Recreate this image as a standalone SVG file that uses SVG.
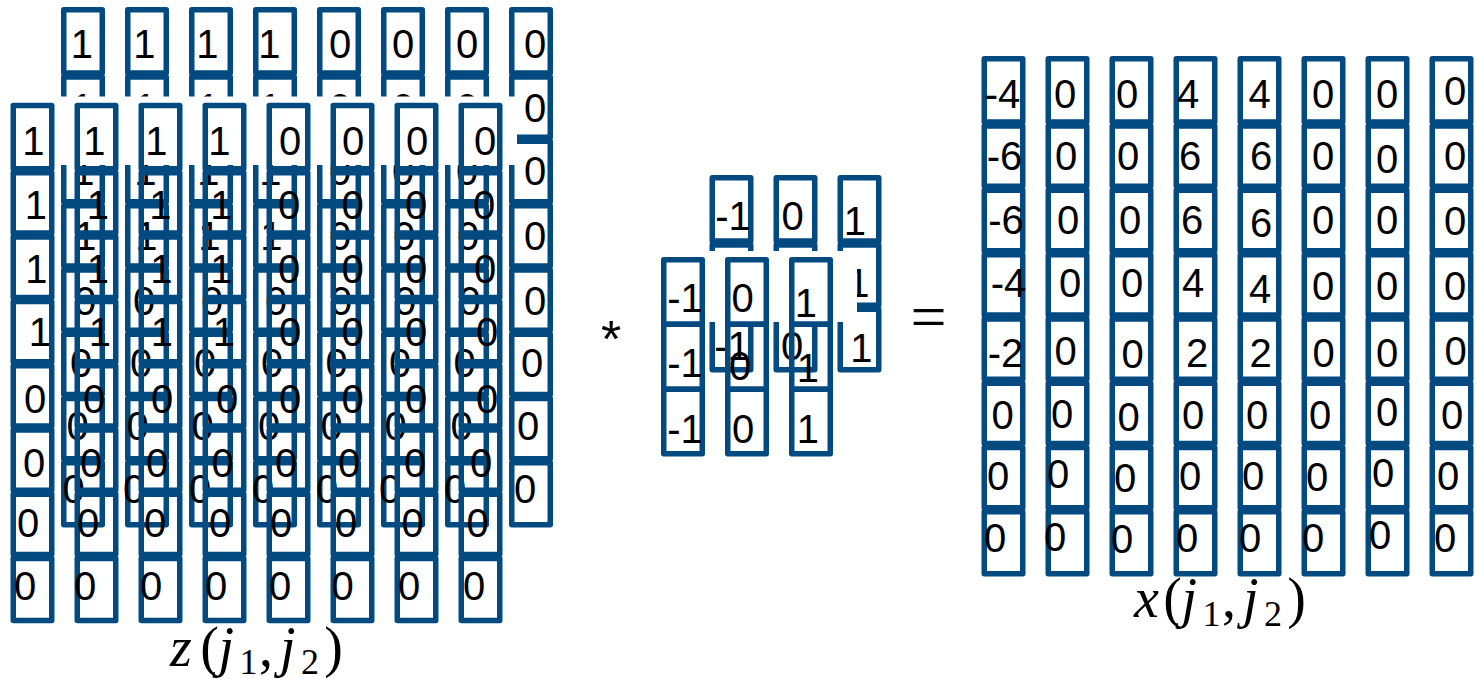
<svg xmlns="http://www.w3.org/2000/svg" width="1479" height="679" viewBox="0 0 1479 679">
  <style>
    .cell { fill: none; stroke: #034a80; stroke-width: 5.5; stroke-linejoin: round; }
    .d { font-family: "Liberation Sans", Arial, sans-serif; font-size: 40px; fill: #000; text-anchor: middle; }
    .op { font-family: "Liberation Sans", Arial, sans-serif; fill: #000; text-anchor: middle; }
    .mi { font-family: "Liberation Serif", "Times New Roman", serif; font-style: italic; font-size: 56px; fill: #000; text-anchor: middle; }
    .mr { font-family: "Liberation Serif", "Times New Roman", serif; font-size: 56px; fill: #000; text-anchor: middle; }
    .sub { font-family: "Liberation Serif", "Times New Roman", serif; font-size: 36px; fill: #000; text-anchor: middle; }
  </style>
  <defs>
    <!-- one column of eight stacked cells -->
    <g id="col8">
      <rect class="cell" x="2.75" y="-0.25" width="38.5" height="63.3"/>
      <rect class="cell" x="2.75" y="67.05" width="38.5" height="60.3"/>
      <rect class="cell" x="2.75" y="131.35" width="38.5" height="60.3"/>
      <rect class="cell" x="2.75" y="195.65" width="38.5" height="60.3"/>
      <rect class="cell" x="2.75" y="259.95" width="38.5" height="60.3"/>
      <rect class="cell" x="2.75" y="324.25" width="38.5" height="60.3"/>
      <rect class="cell" x="2.75" y="388.55" width="38.5" height="60.3"/>
      <rect class="cell" x="2.75" y="452.85" width="38.5" height="61.8"/>
    </g>
    <!-- three-cell column, rear kernel slice -->
    <g id="col3b">
      <rect class="cell" x="2.75" y="-0.25" width="38.5" height="63.3"/>
      <rect class="cell" x="2.75" y="67.05" width="38.5" height="60.3"/>
      <rect class="cell" x="2.75" y="131.35" width="38.5" height="60.3"/>
    </g>
    <!-- three-cell column, front kernel slice -->
    <g id="col3f">
      <rect class="cell" x="2.75" y="2.75" width="38.5" height="64.5"/>
      <rect class="cell" x="2.75" y="67.25" width="38.5" height="65"/>
      <rect class="cell" x="2.75" y="132.25" width="38.5" height="64.5"/>
    </g>
  </defs>

  <!-- z(j1,j2): rear slice -->
  <g id="z-back">
    <use href="#col8" x="61" y="10"/>
    <use href="#col8" x="125" y="10"/>
    <use href="#col8" x="189" y="10"/>
    <use href="#col8" x="253" y="10"/>
    <use href="#col8" x="317" y="10"/>
    <use href="#col8" x="381" y="10"/>
    <use href="#col8" x="445" y="10"/>
    <use href="#col8" x="509" y="10"/>
    <g class="d">
      <text x="81.9" y="58">1</text><text x="144.4" y="58">1</text><text x="207.4" y="58">1</text><text x="269.4" y="58">1</text>
      <text x="340" y="58">0</text><text x="403" y="58">0</text><text x="467" y="58">0</text><text x="535" y="58">0</text>
      <text x="82.4" y="122">1</text><text x="145.4" y="122">1</text><text x="208.4" y="122">1</text><text x="270.4" y="122">1</text>
      <text x="340" y="122">0</text><text x="403" y="122">0</text><text x="467" y="122">0</text><text x="535" y="122">0</text>
      <text x="83.4" y="185">1</text><text x="145.4" y="185">1</text><text x="208.4" y="185">1</text><text x="270.4" y="185">1</text>
      <text x="340" y="185">0</text><text x="403" y="185">0</text><text x="467" y="185">0</text><text x="535" y="185">0</text>
      <text x="85.4" y="250">1</text><text x="146.4" y="250">1</text><text x="209.4" y="250">1</text><text x="271.4" y="250">1</text>
      <text x="340" y="250">0</text><text x="404" y="250">0</text><text x="468" y="250">0</text><text x="535" y="250">0</text>
      <text x="85" y="315">0</text><text x="144" y="315">0</text><text x="212" y="315">0</text><text x="276" y="315">0</text>
      <text x="341" y="315">0</text><text x="405" y="315">0</text><text x="469.5" y="315">0</text><text x="535" y="315">0</text>
      <text x="81" y="377">0</text><text x="141" y="377">0</text><text x="205" y="377">0</text><text x="272" y="377">0</text>
      <text x="336.5" y="377">0</text><text x="400" y="377">0</text><text x="464.5" y="377">0</text><text x="532" y="377">0</text>
      <text x="77.5" y="440">0</text><text x="137.5" y="440">0</text><text x="202.5" y="440">0</text><text x="269" y="440">0</text>
      <text x="331.5" y="440">0</text><text x="395.5" y="440">0</text><text x="461.5" y="440">0</text><text x="528" y="440">0</text>
      <text x="73.5" y="503">0</text><text x="134" y="503">0</text><text x="200" y="503">0</text><text x="263" y="503">0</text>
      <text x="327" y="503">0</text><text x="390" y="503">0</text><text x="455" y="503">0</text><text x="525" y="503">0</text>
    </g>
  </g>

  <!-- backing of the front slice's first row -->
  <rect id="z-mask" x="0" y="96.5" width="517" height="68.5" fill="#fff"/>

  <!-- z(j1,j2): front slice -->
  <g id="z-front">
    <use href="#col8" x="10.5" y="105.75"/>
    <use href="#col8" x="74.5" y="105.75"/>
    <use href="#col8" x="138.5" y="105.75"/>
    <use href="#col8" x="202.5" y="105.75"/>
    <use href="#col8" x="266.5" y="105.75"/>
    <use href="#col8" x="330.5" y="105.75"/>
    <use href="#col8" x="394.5" y="105.75"/>
    <use href="#col8" x="458.5" y="105.75"/>
    <g class="d">
      <text x="33.4" y="155">1</text><text x="94.4" y="155">1</text><text x="156.4" y="155">1</text><text x="219.4" y="155">1</text>
      <text x="290" y="155">0</text><text x="353" y="155">0</text><text x="417" y="155">0</text><text x="485" y="155">0</text>
      <text x="35.9" y="219">1</text><text x="97.9" y="219">1</text><text x="160.4" y="219">1</text><text x="221.4" y="219">1</text>
      <text x="289" y="219">0</text><text x="352.5" y="219">0</text><text x="416" y="219">0</text><text x="484" y="219">0</text>
      <text x="36.4" y="283">1</text><text x="97.9" y="283">1</text><text x="161.4" y="283">1</text><text x="221.4" y="283">1</text>
      <text x="289" y="283">0</text><text x="352.5" y="283">0</text><text x="416" y="283">0</text><text x="485" y="283">0</text>
      <text x="39.9" y="346">1</text><text x="99.9" y="346">1</text><text x="161.9" y="346">1</text><text x="223.9" y="346">1</text>
      <text x="290" y="346">0</text><text x="352.5" y="346">0</text><text x="416" y="346">0</text><text x="487" y="346">0</text>
      <text x="35" y="413">0</text><text x="94" y="413">0</text><text x="162" y="413">0</text><text x="227" y="413">0</text>
      <text x="290" y="413">0</text><text x="352.5" y="413">0</text><text x="416" y="413">0</text><text x="487" y="413">0</text>
      <text x="34" y="477">0</text><text x="91" y="477">0</text><text x="157" y="477">0</text><text x="222.5" y="477">0</text>
      <text x="286" y="477">0</text><text x="349" y="477">0</text><text x="415" y="477">0</text><text x="481" y="477">0</text>
      <text x="28" y="537">0</text><text x="88" y="537">0</text><text x="155" y="537">0</text><text x="220" y="537">0</text>
      <text x="281" y="537">0</text><text x="346" y="537">0</text><text x="412.5" y="537">0</text><text x="477.5" y="537">0</text>
      <text x="25" y="600">0</text><text x="85" y="600">0</text><text x="151" y="600">0</text><text x="216" y="600">0</text>
      <text x="280" y="600">0</text><text x="342.5" y="600">0</text><text x="409" y="600">0</text><text x="474" y="600">0</text>
    </g>
  </g>

  <!-- label under the input -->
  <g id="z-label">
    <text class="mi" x="181" y="666">z</text>
    <text class="mr" x="209.5" y="666">(</text>
    <text class="mi" x="226.3" y="666">j</text>
    <text class="sub" x="248.5" y="674">1</text>
    <text class="mr" x="266" y="666">,</text>
    <text class="mi" x="287.8" y="666">j</text>
    <text class="sub" x="310" y="674">2</text>
    <text class="mr" x="333.5" y="666">)</text>
  </g>

  <!-- convolution sign -->
  <text id="conv-op" class="op" x="611" y="357" font-size="52">*</text>

  <!-- kernel: rear slice -->
  <g id="kernel-back">
    <use href="#col3b" x="709.5" y="178"/>
    <use href="#col3b" x="773.5" y="178"/>
    <use href="#col3b" x="837.5" y="178"/>
    <g class="d">
      <text x="733.1" y="230">-1</text><text x="792.5" y="230">0</text><text x="854.9" y="235">1</text>
      <text x="858.4" y="297">1</text>
      <text x="732.1" y="360">-1</text><text x="792" y="360">0</text><text x="861.4" y="362">1</text>
    </g>
  </g>

  <!-- backing of the front kernel slice's first row -->
  <rect id="kernel-mask" x="655" y="251" width="202" height="71" fill="#fff"/>

  <!-- kernel: front slice -->
  <g id="kernel-front">
    <use href="#col3f" x="661" y="257"/>
    <use href="#col3f" x="725" y="257"/>
    <use href="#col3f" x="789" y="257"/>
    <g class="d">
      <text x="685.1" y="312">-1</text><text x="742.5" y="312">0</text><text x="805.9" y="317">1</text>
      <text x="685.1" y="377">-1</text><text x="740" y="380">0</text><text x="807.9" y="382">1</text>
      <text x="685.1" y="443">-1</text><text x="743" y="443">0</text><text x="807.9" y="443">1</text>
    </g>
  </g>

  <!-- equals sign -->
  <text id="eq-op" x="928.5" y="338" font-family="'Liberation Serif', 'Times New Roman', serif" font-size="64" text-anchor="middle" fill="#000">=</text>

  <!-- output x(j1,j2) -->
  <g id="x-matrix">
    <use href="#col8" x="981.5" y="59"/>
    <use href="#col8" x="1045.5" y="59"/>
    <use href="#col8" x="1109.5" y="59"/>
    <use href="#col8" x="1173.5" y="59"/>
    <use href="#col8" x="1237.5" y="59"/>
    <use href="#col8" x="1301.5" y="59"/>
    <use href="#col8" x="1365.5" y="59"/>
    <use href="#col8" x="1429.5" y="59"/>
    <g class="d">
      <text x="1002.5" y="108">-4</text><text x="1065" y="108">0</text><text x="1127" y="108">0</text><text x="1188" y="108">4</text>
      <text x="1259.5" y="108">4</text><text x="1323" y="108">0</text><text x="1387" y="108">0</text><text x="1455" y="105">0</text>
      <text x="1004.5" y="170">-6</text><text x="1066" y="170">0</text><text x="1128" y="170">0</text><text x="1190" y="170">6</text>
      <text x="1261" y="170">6</text><text x="1323" y="170">0</text><text x="1387" y="173">0</text><text x="1455" y="170">0</text>
      <text x="1006" y="234">-6</text><text x="1068" y="234">0</text><text x="1130" y="234">0</text><text x="1192" y="234">6</text>
      <text x="1261" y="237">6</text><text x="1323" y="234">0</text><text x="1387" y="234">0</text><text x="1455" y="235">0</text>
      <text x="1008.5" y="297">-4</text><text x="1070" y="297">0</text><text x="1132" y="297">0</text><text x="1193" y="297">4</text>
      <text x="1260" y="303">4</text><text x="1323" y="300">0</text><text x="1387" y="300">0</text><text x="1455" y="300">0</text>
      <text x="1005.5" y="367">-2</text><text x="1065.5" y="365">0</text><text x="1132.5" y="368">0</text><text x="1197" y="367">2</text>
      <text x="1260.5" y="367">2</text><text x="1323.5" y="367">0</text><text x="1387" y="367">0</text><text x="1455.5" y="365">0</text>
      <text x="1002.5" y="429">0</text><text x="1062" y="428">0</text><text x="1128.5" y="431">0</text><text x="1193" y="429">0</text>
      <text x="1257" y="429">0</text><text x="1320" y="429">0</text><text x="1387" y="426">0</text><text x="1452" y="429">0</text>
      <text x="998" y="490">0</text><text x="1058" y="488">0</text><text x="1125" y="492">0</text><text x="1190" y="490">0</text>
      <text x="1253" y="490">0</text><text x="1317" y="491">0</text><text x="1383" y="487">0</text><text x="1448" y="490">0</text>
      <text x="995" y="552">0</text><text x="1055" y="551">0</text><text x="1122" y="553">0</text><text x="1187" y="552">0</text>
      <text x="1250" y="552">0</text><text x="1313" y="552">0</text><text x="1380" y="549">0</text><text x="1445" y="552">0</text>
    </g>
  </g>

  <!-- label under the output -->
  <g id="x-label">
    <text class="mi" x="1146.5" y="617">x</text>
    <text class="mr" x="1172.5" y="617">(</text>
    <text class="mi" x="1189.3" y="617">j</text>
    <text class="sub" x="1211.5" y="626">1</text>
    <text class="mr" x="1229" y="617">,</text>
    <text class="mi" x="1250.8" y="617">j</text>
    <text class="sub" x="1273" y="626">2</text>
    <text class="mr" x="1296.5" y="617">)</text>
  </g>
</svg>
